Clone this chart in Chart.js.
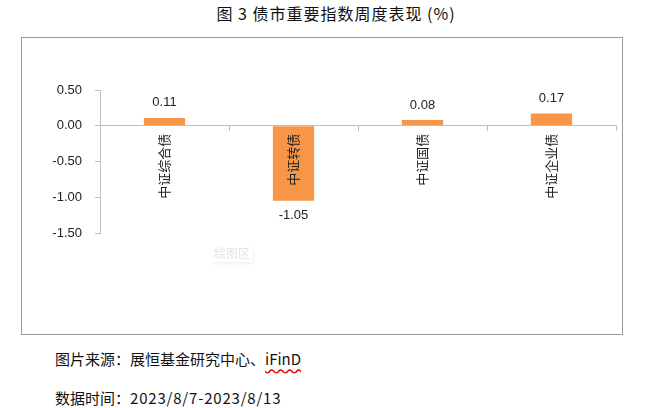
<!DOCTYPE html>
<html>
<head>
<meta charset="utf-8">
<script src="https://cdn.jsdelivr.net/npm/chart.js@4.4.0/dist/chart.umd.min.js"></script>
<style>
  body { margin: 0; width: 662px; height: 408px; background: #fff; position: relative; overflow: hidden;
         font-family: "Noto Sans CJK SC", sans-serif; }
  #title { position: absolute; left: 0; width: 672px; top: 1px; text-align: center; font-size: 16px; color: #111; letter-spacing: 1px; }
  #box { position: absolute; left: 21px; top: 37px; width: 600px; height: 296px; border: 1px solid #999; }
  #wrap { position: absolute; left: 22px; top: 38px; width: 600px; height: 296px; }
  #tip { position: absolute; left: 211px; top: 243px; padding: 1px 3px; font-size: 12px; color: #e4e4e4;
         box-shadow: 1px 2px 3px rgba(0,0,0,0.06); background: #fff; }
  .foot { position: absolute; left: 55px; font-size: 15px; color: #111; }
  .wavy { text-decoration: underline wavy #e00; text-underline-offset: 3px; }
</style>
</head>
<body>
<div id="title">图 3&nbsp;债市重要指数周度表现 (%)</div>
<div id="box"></div>
<div id="wrap"><canvas id="chart" width="600" height="296"></canvas></div>
<div id="tip">绘图区</div>
<div class="foot" style="top:348px">图片来源：展恒基金研究中心、<span class="wavy">iFinD</span></div>
<div class="foot" style="top:387px">数据时间：<span style="letter-spacing:0.8px">2023/8/7-2023/8/13</span></div>
<script>
'use strict';

let categories = ['中证综合债', '中证转债', '中证国债', '中证企业债'];
let weeklyReturn = [0.11, -1.05, 0.08, 0.17];
let yTicks = [0.5, 0, -0.5, -1, -1.5];

let canvasElem = document.getElementById('chart');

// value labels above / below each bar
let barLabels = {
  id: 'barLabels',
  afterDatasetsDraw(chart) {
    let ctx = chart.ctx;
    let meta = chart.getDatasetMeta(0);
    ctx.save();
    ctx.font = '13px "Liberation Sans", Arial, sans-serif';
    ctx.fillStyle = '#222';
    ctx.textAlign = 'center';
    ctx.textBaseline = 'middle';
    meta.data.forEach((bar, i) => {
      let v = weeklyReturn[i];
      let y = v >= 0 ? bar.y - 15 : bar.y + 15;
      ctx.fillText(v.toFixed(2), bar.x, y);
    });
    ctx.restore();
  }
};

let config = {
  type: 'bar',
  data: {
    labels: categories,
    datasets: [{
      data: weeklyReturn,
      backgroundColor: '#F79646',
      borderWidth: 0,
      barPercentage: 0.32,
      categoryPercentage: 1
    }]
  },
  options: {
    responsive: false,
    animation: false,
    layout: { padding: { top: 52, right: 6, bottom: 101, left: 0 } },
    plugins: { legend: { display: false }, tooltip: { enabled: false } },
    scales: {
      x: {
        position: { y: 0 },
        offset: true,
        grid: { offset: true, drawOnChartArea: false, color: '#bfbfbf', tickLength: 5 },
        border: { color: '#bfbfbf', z: 1 },
        ticks: {
          z: 1, // labels over the bars
          minRotation: 90, maxRotation: 90, padding: 3,
          color: '#222',
          font: { family: '"Noto Sans CJK SC", sans-serif', size: 13 }
        }
      },
      y: {
        min: -1.5,
        max: 0.5,
        afterBuildTicks(scale) { scale.ticks = yTicks.map(v => ({ value: v })); },
        afterFit(scale) { scale.width = 78; },
        grid: { drawOnChartArea: false, color: '#bfbfbf', tickLength: 5 },
        border: { color: '#bfbfbf' },
        ticks: {
          padding: 13,
          color: '#222',
          font: { family: '"Liberation Sans", Arial, sans-serif', size: 13 },
          callback: v => v.toFixed(2)
        }
      }
    }
  },
  plugins: [barLabels]
};

let myChart = new Chart(canvasElem, config);
</script>
</body>
</html>
